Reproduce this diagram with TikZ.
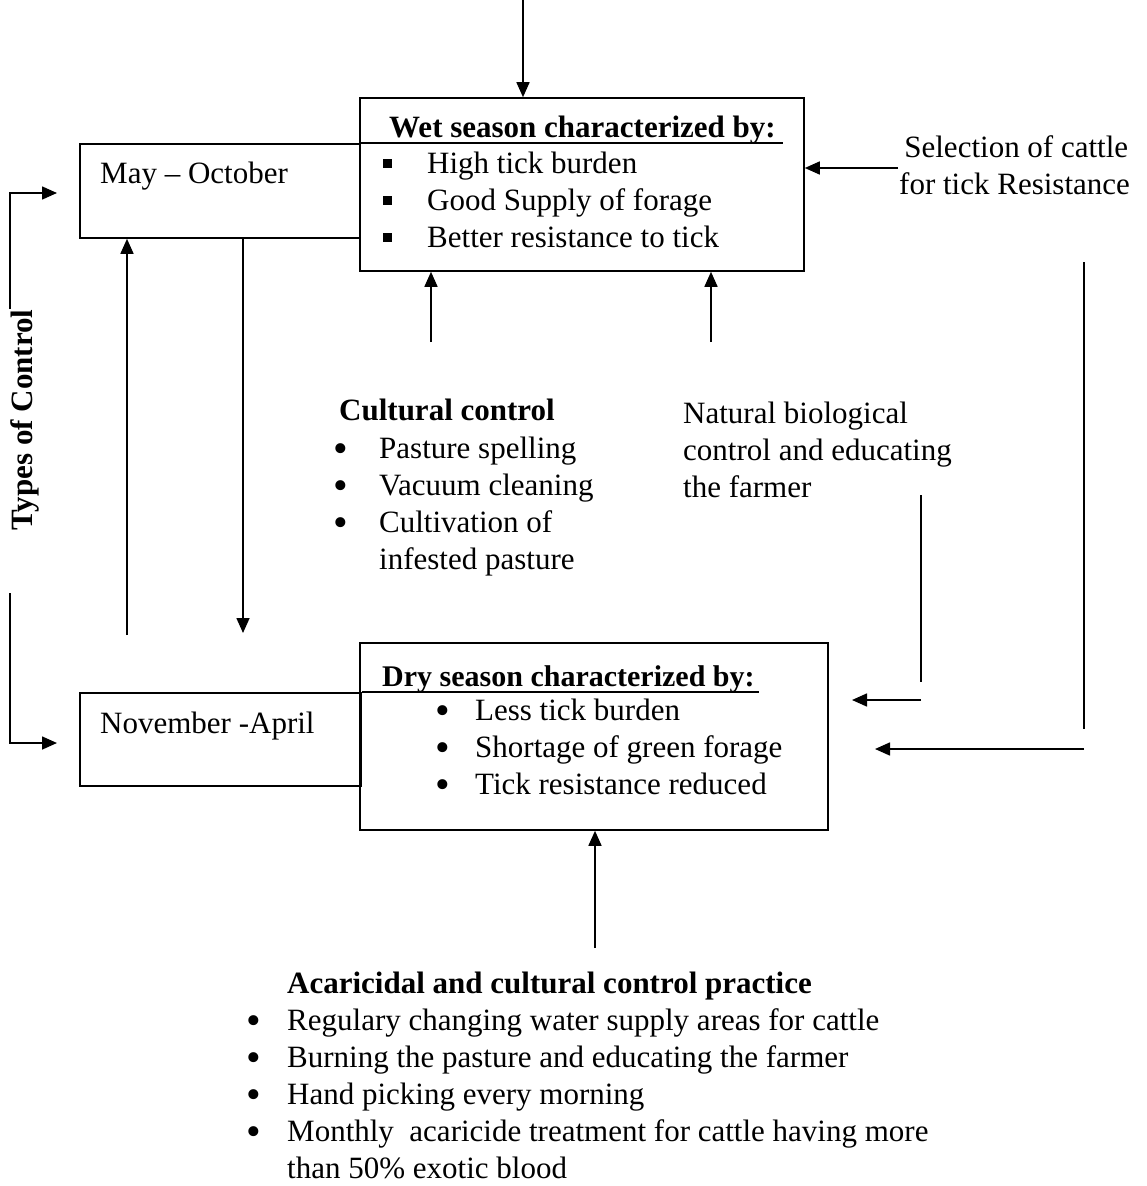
\documentclass[tikz,border=0pt]{standalone}
\usepackage{fontspec}
\setmainfont{Liberation Serif}
\usetikzlibrary{arrows.meta, positioning}

\newcommand{\sqmark}{\rule[5pt]{9pt}{9pt}}
\newcommand{\dotmark}{\smash{\raisebox{-4pt}{\scalebox{1.35}{\textbullet}}}}
\newcommand{\bul}[1]{\makebox[#1][l]{\dotmark}}
\newcommand{\sqb}[1]{\makebox[#1][l]{\sqmark}}

\begin{document}
\begin{tikzpicture}[
    x=1pt, y=-1pt,
    box/.style={rectangle, draw, line width=1.6pt, inner sep=0pt},
    arrow/.style={-{Triangle[length=15pt, width=13pt]}, line width=1.6pt},
    plain/.style={line width=1.6pt},
    txt/.style={inner sep=0pt, anchor=base west, font=\fontsize{31}{37}\selectfont},
    head/.style={txt, font=\fontsize{31}{37}\selectfont\bfseries}
]
\useasboundingbox (0,0) rectangle (1146,1186);

% season boxes
\node[box, minimum width=280pt, minimum height=94pt] (may) at (220,191) {};
\node[box, minimum width=444pt, minimum height=173pt] (wet) at (582,184.5) {};
\node[box, minimum width=281pt, minimum height=93pt] (nov) at (220.5,739.5) {};
\node[box, minimum width=468pt, minimum height=187pt] (dry) at (594,736.5) {};

% title underlines
\draw[plain] (may.north east) -- ++(422,0);
\draw[plain] (nov.north east) -- ++(397,0);

\node[txt] (maytxt) at (100,183) {May -- October};
\node[txt] (novtxt) at (100,733) {November -April};

\node[head] (wettitle) at (389,137) {Wet season characterized by:};
\node[txt] (wetlist) at (383,173) {\begin{tabular}[t]{@{}l@{}l@{}}
    \sqb{44pt} & High tick burden\\
    \sqb{44pt} & Good Supply of forage\\
    \sqb{44pt} & Better resistance to tick
  \end{tabular}};

\node[head, font=\fontsize{30}{37}\selectfont\bfseries] (drytitle) at (382,686) {Dry season characterized by:};
\node[txt] (drylist) at (435,720) {\begin{tabular}[t]{@{}l@{}l@{}}
    \bul{40pt} & Less tick burden\\
    \bul{40pt} & Shortage of green forage\\
    \bul{40pt} & Tick resistance reduced
  \end{tabular}};

% control texts
\node[txt] (selection) at (899,157) {\begin{tabular}[t]{@{}l@{}}
    \,Selection of cattle\\ for tick Resistance\end{tabular}};

\node[head] (cultitle) at (339,420) {Cultural control};
\node[txt] (cullist) at (333,458) {\begin{tabular}[t]{@{}l@{}l@{}}
    \bul{46pt} & Pasture spelling\\
    \bul{46pt} & Vacuum cleaning\\
    \bul{46pt} & Cultivation of\\
               & infested pasture
  \end{tabular}};

\node[txt] (natural) at (683,423) {\begin{tabular}[t]{@{}l@{}}
    Natural biological\\ control and educating\\ the farmer\end{tabular}};

\node[head] (acartitle) at (287,993) {Acaricidal and cultural control practice};
\node[txt] (acarlist) at (246,1030) {\begin{tabular}[t]{@{}l@{}l@{}}
    \bul{41pt} & Regulary changing water supply areas for cattle\\
    \bul{41pt} & Burning the pasture and educating the farmer\\
    \bul{41pt} & Hand picking every morning\\
    \bul{41pt} & Monthly\ \ acaricide treatment for cattle having more\\
               & than 50\% exotic blood
  \end{tabular}};

\node[head, rotate=90, anchor=center] (types) at (25,420) {Types of Control};

% free ends
\coordinate (topin) at (523,0);
\coordinate (selin) at (898,168);
\coordinate (culin) at (431,342);
\coordinate (natin) at (711,342);
\coordinate (acarin) at (595,948);
\coordinate (upfrom) at (127,635);
\coordinate (downto) at (243,633);
\coordinate (rtop) at (1084,262);
\coordinate (rbot) at (1084,729);
\coordinate (rarr) at (1084,749);
\coordinate (rtip) at (875,749);
\coordinate (ntop) at (921,495);
\coordinate (nbot) at (921,682);
\coordinate (narr) at (921,700);
\coordinate (ntip) at (852,700);
\coordinate (tctop) at (10,309);
\coordinate (tcbot) at (10,593);
\coordinate (maytip) at (57,193);
\coordinate (novtip) at (57,743);

% arrows
\draw[arrow] (topin) -- (topin |- wet.north);
\draw[arrow] (selin) -- (selin -| wet.east);
\draw[arrow] (culin) -- (culin |- wet.south);
\draw[arrow] (natin) -- (natin |- wet.south);
\draw[arrow] (acarin) -- (acarin |- dry.south);
\draw[arrow] (upfrom) -- (upfrom |- may.south);
\draw[arrow] (downto |- may.south) -- (downto);
\draw[plain] (rtop) -- (rbot);
\draw[arrow] (rarr) -- (rtip);
\draw[plain] (ntop) -- (nbot);
\draw[arrow] (narr) -- (ntip);
\draw[arrow] (tctop) |- (maytip);
\draw[arrow] (tcbot) |- (novtip);

\end{tikzpicture}
\end{document}
